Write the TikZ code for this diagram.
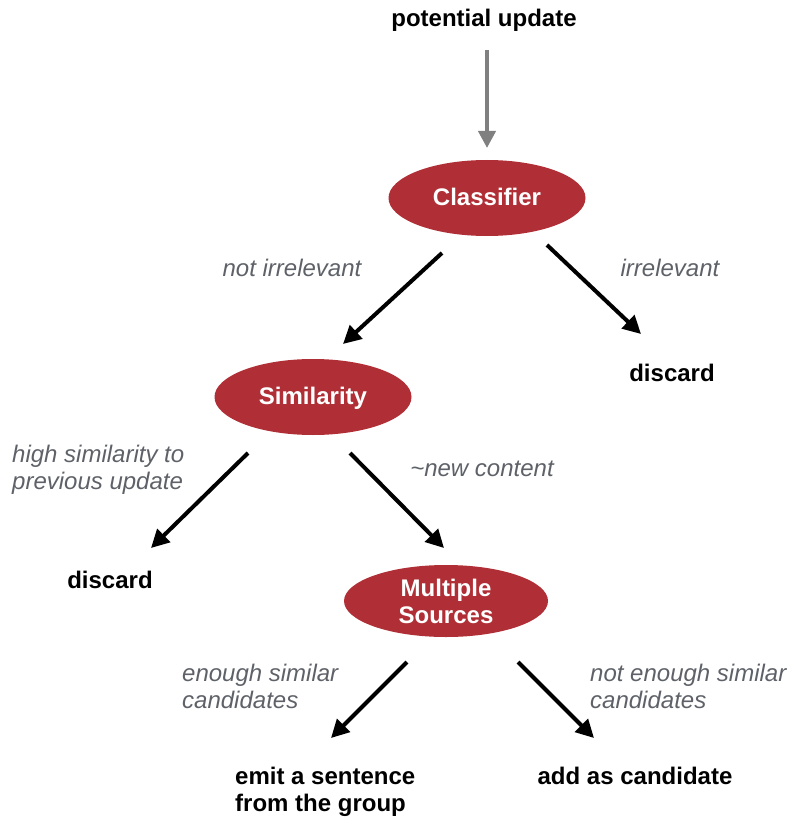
\documentclass[tikz,border=0pt]{standalone}
\usepackage{fontspec}
\setmainfont{Liberation Sans}
\usetikzlibrary{arrows.meta,shapes.geometric}
\definecolor{nodered}{HTML}{B02E35}
\definecolor{labelgray}{HTML}{5E6268}
\definecolor{arrowgray}{HTML}{808080}
\begin{document}
\begin{tikzpicture}[x=1pt,y=-1pt,
  decision/.style={ellipse,fill=nodered,draw=none,minimum width=197pt,minimum height=76pt,inner sep=0pt,
    text=white,font=\fontsize{24}{27}\selectfont\bfseries,align=center},
  oneline/.style={text height=17.5pt,text depth=2.5pt},
  outcome/.style={font=\fontsize{24}{27}\selectfont\bfseries,text=black,inner sep=0pt,align=left},
  edgelabel/.style={font=\fontsize{24}{27}\selectfont\itshape,text=labelgray,inner sep=0pt,align=left},
  flow/.style={line width=4pt,draw=black,-{Triangle[length=18pt,width=18pt]}},
  inflow/.style={line width=4pt,draw=arrowgray,-{Triangle[length=17pt,width=17pt]}}
]
\useasboundingbox (0,0) rectangle (791,818);
% nodes
\node[outcome,anchor=base] (start) at (484,27) {potential update};
\node[decision,oneline] (cls) at (487,198) {Classifier};
\node[decision,oneline] (sim) at (313,397) {Similarity};
\node[decision,minimum width=204pt,minimum height=72pt] (mul) at (446,601) {Multiple\\Sources};
\node[outcome,anchor=base] (d1) at (672,381) {discard};
\node[outcome,anchor=base] (d2) at (110,588) {discard};
\node[outcome,anchor=base west] (emit) at (235,811) {emit a sentence\\from the group};
\node[outcome,anchor=base] (add) at (635,784) {add as candidate};
% labels
\node[edgelabel,anchor=base] (l1) at (292,276) {not irrelevant};
\node[edgelabel,anchor=base] (l2) at (670,276) {irrelevant};
\node[edgelabel,anchor=base west] (l3) at (12,489) {high similarity to\\previous update};
\node[edgelabel,anchor=base] (l4) at (482,476) {\textasciitilde new content};
\node[edgelabel,anchor=base west] (l5) at (182,708) {enough similar\\candidates};
\node[edgelabel,anchor=base west] (l6) at (590,708) {not enough similar\\candidates};
% connector end points
\coordinate (s0) at (487,50);
\coordinate (e0) at (487,148);
\coordinate (s1) at (442,253);
\coordinate (e1) at (343,344);
\coordinate (s2) at (547,245);
\coordinate (e2) at (641,334);
\coordinate (s3) at (248,453);
\coordinate (e3) at (151,548);
\coordinate (s4) at (350,453);
\coordinate (e4) at (444,548);
\coordinate (s5) at (407,662);
\coordinate (e5) at (331,738);
\coordinate (s6) at (518,662);
\coordinate (e6) at (594,738);
% connectors
\draw[inflow] (s0) -- (e0);
\draw[flow] (s1) -- (e1);
\draw[flow] (s2) -- (e2);
\draw[flow] (s3) -- (e3);
\draw[flow] (s4) -- (e4);
\draw[flow] (s5) -- (e5);
\draw[flow] (s6) -- (e6);
\end{tikzpicture}
\end{document}
